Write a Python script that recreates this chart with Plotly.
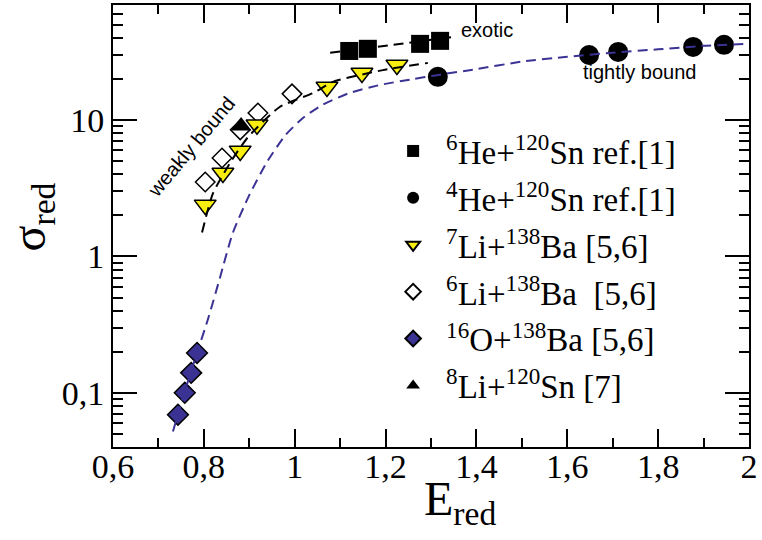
import math
import plotly.graph_objects as go

# ---- data ----
he6_x = [1.120, 1.161, 1.276, 1.320]
he6_y = [32.2, 33.4, 36.3, 38.2]

he4_x = [1.315, 1.648, 1.712, 1.877, 1.945]
he4_y = [20.8, 30.1, 31.7, 34.5, 35.7]

li7_x = [0.803, 0.842, 0.880, 0.917, 1.071, 1.148, 1.225]
li7_y = [2.39, 4.10, 5.95, 9.25, 17.5, 22.2, 25.4]

li6_x = [0.803, 0.840, 0.880, 0.919, 0.994]
li6_y = [3.52, 5.28, 8.49, 11.3, 15.6]

o16_x = [0.743, 0.758, 0.772, 0.785]
o16_y = [0.069, 0.100, 0.140, 0.196]

li8_x = [0.882]
li8_y = [9.07]

fit_exotic_x = [1.078, 1.21, 1.348]
fit_exotic_y = [31.2, 35.5, 40.8]

fit_weak_x = [0.796, 0.82, 0.86, 0.897, 0.967, 1.042, 1.084, 1.194, 1.293]
fit_weak_y = [1.5, 2.9, 5.0, 7.5, 12.5, 15.9, 19.1, 23.3, 26.3]

fit_tight_x = [0.732, 0.757, 0.785, 0.81, 0.835, 0.8635, 0.90, 0.94, 0.98, 1.02,
               1.06, 1.12, 1.19, 1.26, 1.313, 1.40, 1.50, 1.60, 1.70, 1.80, 1.90, 1.99]
fit_tight_y = [0.052, 0.100, 0.196, 0.355, 0.69, 1.48, 2.82, 5.0, 7.8, 10.5,
               12.9, 15.8, 18.2, 20.0, 21.4, 23.7, 26.9, 29.2, 31.3, 33.1, 35.1, 36.3]

x_tick_vals = [0.6, 0.8, 1.0, 1.2, 1.4, 1.6, 1.8, 2.0]
x_tick_text = ["0,6", "0,8", "1", "1,2", "1,4", "1,6", "1,8", "2"]
y_tick_vals = [0.1, 1, 10]
y_tick_text = ["0,1", "1", "10"]

names = {
    "he6": "<sup>6</sup>He+<sup>120</sup>Sn ref.[1]",
    "he4": "<sup>4</sup>He+<sup>120</sup>Sn ref.[1]",
    "li7": "<sup>7</sup>Li+<sup>138</sup>Ba [5,6]",
    "li6": "<sup>6</sup>Li+<sup>138</sup>Ba \u00a0[5,6]",
    "o16": "<sup>16</sup>O+<sup>138</sup>Ba [5,6]",
    "li8": "<sup>8</sup>Li+<sup>120</sup>Sn [7]",
}

BLUE = "#3b3394"
YELLOW = "#f8ee10"
DASH = "10px,6px"

fig = go.Figure()

# markers
fig.add_trace(go.Scatter(x=he6_x, y=he6_y, mode="markers", name=names["he6"], legendrank=1,
                         legendgroup="a",
                         marker=dict(symbol="square", size=18, color="black")))
fig.add_trace(go.Scatter(x=he4_x, y=he4_y, mode="markers", name=names["he4"], legendrank=2,
                         legendgroup="b",
                         marker=dict(symbol="circle", size=20, color="black")))
fig.add_trace(go.Scatter(x=li6_x, y=li6_y, mode="markers", name=names["li6"], legendrank=4,
                         legendgroup="d",
                         marker=dict(symbol="diamond", size=15, color="white",
                                     line=dict(color="black", width=1.5))))
fig.add_trace(go.Scatter(x=o16_x, y=o16_y, mode="markers", name=names["o16"], legendrank=5,
                         legendgroup="e",
                         marker=dict(symbol="diamond", size=16, color=BLUE,
                                     line=dict(color="black", width=1.5))))
fig.add_trace(go.Scatter(x=li7_x, y=li7_y, mode="markers", name=names["li7"], legendrank=3,
                         legendgroup="c",
                         marker=dict(symbol="triangle-down", size=19, color=YELLOW,
                                     line=dict(color="black", width=1.5))))
fig.add_trace(go.Scatter(x=li8_x, y=li8_y, mode="markers", name=names["li8"], legendrank=6,
                         legendgroup="f",
                         marker=dict(symbol="triangle-up", size=18, color="black")))

# fit lines on top
fig.add_trace(go.Scatter(x=fit_tight_x, y=fit_tight_y, mode="lines", showlegend=False,
                         line=dict(color=BLUE, width=2, dash=DASH, shape="spline", smoothing=0.6)))
fig.add_trace(go.Scatter(x=fit_weak_x, y=fit_weak_y, mode="lines", showlegend=False,
                         line=dict(color="black", width=2, dash=DASH, shape="spline", smoothing=0.6)))
fig.add_trace(go.Scatter(x=fit_exotic_x, y=fit_exotic_y, mode="lines", showlegend=False,
                         line=dict(color="black", width=2, dash=DASH, shape="spline", smoothing=0.6)))

fig.update_layout(
    width=762, height=540,
    margin=dict(l=113, r=13, t=5, b=93),
    plot_bgcolor="white", paper_bgcolor="white",
    separators=", ",
    font=dict(family="Liberation Serif", color="black"),
    legend=dict(x=0.42, y=0.733, xanchor="left", yanchor="top",
                font=dict(family="Liberation Serif", size=33, color="black"),
                itemsizing="constant", itemwidth=56, tracegroupgap=1,
                bgcolor="rgba(0,0,0,0)", borderwidth=0),
)

fig.update_xaxes(
    range=[0.6, 2.0], tickvals=x_tick_vals, ticktext=x_tick_text,
    ticks="inside", ticklen=18, tickwidth=1.5, tickcolor="black",
    showline=True, linewidth=2, linecolor="black", mirror="allticks",
    showgrid=False, zeroline=False, automargin=False, ticklabelstandoff=-12,
    tickfont=dict(family="Liberation Serif", size=34, color="black"),
    minor=dict(tick0=0.6, dtick=0.1, ticks="inside", ticklen=9, tickwidth=1.5,
               tickcolor="black", showgrid=False),
)
fig.update_yaxes(
    type="log", range=[math.log10(0.04), math.log10(70)],
    tickvals=y_tick_vals, ticktext=y_tick_text,
    ticks="inside", ticklen=24, tickwidth=1.5, tickcolor="black",
    showline=True, linewidth=2, linecolor="black", mirror="allticks",
    showgrid=False, zeroline=False, automargin=False,
    tickfont=dict(family="Liberation Serif", size=34, color="black"),
    minor=dict(dtick="D1", ticks="inside", ticklen=10, tickwidth=1.5,
               tickcolor="black", showgrid=False),
)

# axis titles
title_font = dict(family="Liberation Serif", size=48, color="black")
fig.add_annotation(xref="paper", yref="paper", x=0.546, y=-0.052, yanchor="top",
                   text="E<sub>red</sub>", showarrow=False, font=title_font)
fig.add_annotation(xref="paper", yref="paper", x=-0.127, y=0.52, xanchor="center",
                   text="σ<sub>red</sub>", showarrow=False, font=title_font, textangle=-90)

ann_font = dict(family="Liberation Sans", size=20, color="black")
fig.add_annotation(x=1.424, y=1.662, text="exotic", showarrow=False, font=ann_font)
fig.add_annotation(x=1.76, y=1.354, text="tightly bound", showarrow=False, font=ann_font)
fig.add_annotation(x=0.772, y=0.80, text="weakly bound", showarrow=False, font=ann_font,
                   textangle=-50)

fig.write_html("out.html", config={"displayModeBar": False},
               post_script="document.body.style.margin='0px';document.body.style.overflow='hidden';")
